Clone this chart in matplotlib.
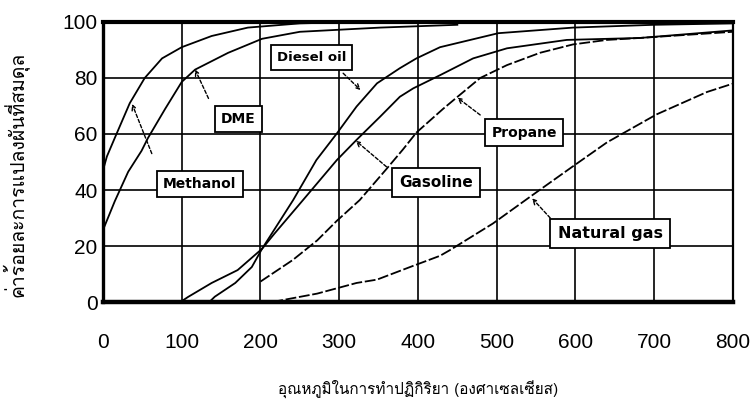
import matplotlib
matplotlib.use("Agg")
import matplotlib.pyplot as plt
from matplotlib import font_manager
from matplotlib.ft2font import FT2Font

# equilibrium conversion (%) against reaction temperature (deg C)
temp_methanol = [0, 5, 15, 34, 53, 75, 100, 138, 184, 250, 320]
conv_methanol = [47, 52, 58.6, 71, 80, 87, 91, 95, 98, 99.5, 100]

temp_dme = [0, 15, 32, 49, 57, 79, 100, 117, 159, 202, 250, 352, 450]
conv_dme = [25.7, 36, 46.5, 54, 58.5, 69, 78.6, 83, 89, 94, 96.5, 98, 99]

temp_diesel = [135, 142, 168, 189, 202, 241.5, 271, 297, 322, 348, 377, 398, 428, 502, 597, 700, 800]
conv_diesel = [0, 1.9, 6.8, 12.5, 19, 36.4, 50.7, 60.2, 69.8, 78.1, 83.5, 87, 91, 96, 98, 99, 99.5]

temp_gasoline = [100, 108, 138, 171, 202, 218, 254, 297, 322, 352, 377, 394, 428, 470, 513, 589, 682, 800]
conv_gasoline = [0.3, 1.8, 6.8, 11.4, 19, 24.5, 36.4, 50.7, 57.9, 66.2, 73.3, 76.3, 81, 87, 90.6, 93.6, 94.3, 97]

temp_propane = [200, 241, 272, 297, 326, 360, 381, 398, 432, 449, 479, 513, 555, 597, 640, 682, 800]
conv_propane = [7.3, 15, 22, 29, 36.4, 47.5, 54.5, 60.5, 69, 73, 80, 84.6, 89, 92, 93.6, 94.3, 96.5]

temp_natgas = [215, 272, 322, 348, 390, 428, 441, 495, 542, 597, 640, 703, 767, 800]
conv_natgas = [0, 3, 6.8, 8, 12.5, 16.5, 18.6, 28, 37.5, 48.5, 57, 67, 75, 78]

x_ticks = [0, 100, 200, 300, 400, 500, 600, 700, 800]
y_ticks = [0, 20, 40, 60, 80, 100]

fuel_names = ["Methanol", "DME", "Diesel oil", "Gasoline", "Propane", "Natural gas"]

x_title = "อุณหภูมิในการทำปฏิกิริยา (องศาเซลเซียส)"
y_title = "ค่าร้อยละการแปลงผันที่สมดุล"

# callout layout: box centre, arrow tail, arrow tip, font size
callouts = {
    "Methanol": ((123, 42.1), (62, 53), (37, 70.7), 10),
    "DME": ((172, 65.4), (134, 72.7), (117, 83), 10),
    "Diesel oil": ((265, 87.3), (305, 81.7), (327, 75.7), 9.5),
    "Gasoline": ((423, 42.7), (360, 48.3), (321, 57.6), 11),
    "Propane": ((535, 60.5), (479, 66.8), (450, 73), 10),
    "Natural gas": ((644, 24.5), (568, 30), (545, 37), 11.5),
}


def thai_family():
    # first installed face that carries Thai glyphs
    for entry in font_manager.fontManager.ttflist:
        try:
            if 0x0E01 in FT2Font(entry.fname).get_charmap():
                return entry.name
        except Exception:
            continue
    return "DejaVu Sans"


thai = [thai_family(), "DejaVu Sans"]

fig = plt.figure(figsize=(7.55, 4.05), dpi=100)
ax = fig.add_axes([0.1364, 0.2543, 0.8344, 0.6914])

ax.set_xlim(0, 800)
ax.set_ylim(0, 100)
ax.set_xticks(x_ticks)
ax.set_yticks(y_ticks)
ax.grid(True, color="black", lw=1.2)
ax.set_axisbelow(True)
ax.tick_params(length=0, labelsize=15)
ax.tick_params(axis="x", pad=22)
ax.tick_params(axis="y", pad=4)
for lab in ax.get_xticklabels() + ax.get_yticklabels():
    lab.set_family("Liberation Sans")

for side, w in [("left", 2.4), ("bottom", 3.2), ("top", 3.0), ("right", 1.6)]:
    ax.spines[side].set_linewidth(w)

solid = dict(color="black", lw=1.3)
dashed = dict(color="black", lw=1.3, ls=(0, (6, 1.5)))
ax.plot(temp_methanol, conv_methanol, **solid)
ax.plot(temp_dme, conv_dme, **solid)
ax.plot(temp_diesel, conv_diesel, **solid)
ax.plot(temp_gasoline, conv_gasoline, **solid)
ax.plot(temp_propane, conv_propane, **dashed)
ax.plot(temp_natgas, conv_natgas, **dashed)

for name in fuel_names:
    centre, tail, tip, size = callouts[name]
    ax.annotate("", xy=tip, xytext=tail,
                arrowprops=dict(arrowstyle="->,head_length=0.35,head_width=0.18",
                                color="black", lw=1.0, ls=(0, (2.5, 1.5)),
                                shrinkA=0, shrinkB=0))
    ax.text(centre[0], centre[1], name, ha="center", va="center",
            fontsize=size, fontweight="bold", family="DejaVu Sans",
            bbox=dict(boxstyle="square,pad=0.45", fc="white", ec="black", lw=1.3),
            zorder=5)

ax.set_xlabel(x_title, family=thai, fontsize=11, va="center")
ax.xaxis.set_label_coords(0.5, -0.311)
ax.set_ylabel(y_title, family=thai, fontsize=14, va="center")
ax.yaxis.set_label_coords(-0.14, 0.457)

fig.savefig("out.png", dpi=100)
